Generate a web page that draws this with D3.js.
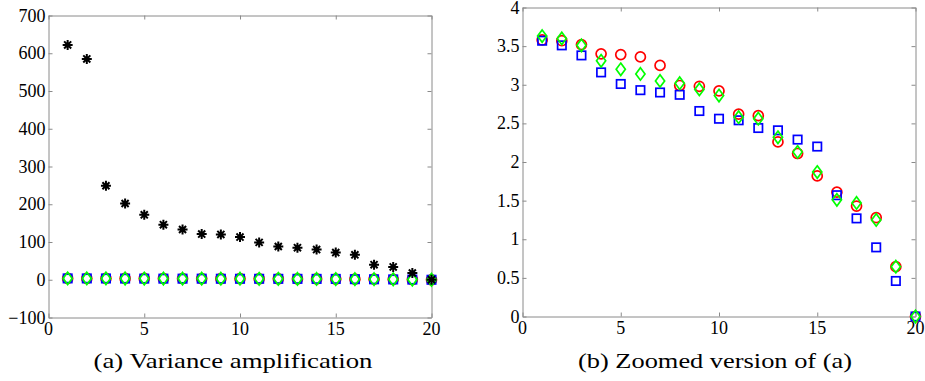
<!DOCTYPE html>
<html>
<head>
<meta charset="utf-8">
<script src="https://cdn.jsdelivr.net/npm/d3@7"></script>
</head>
<body style="margin:0">
<svg id="chart" width="925" height="381" style="font-family: 'Liberation Serif', serif"></svg>
<script>
// Index of each realisation (x positions)
const indices = [1, 2, 3, 4, 5, 6, 7, 8, 9, 10, 11, 12, 13, 14, 15, 16, 17, 18, 19, 20];

// Variance amplification of the baseline estimator (black stars)
const baseline = [622, 585, 249, 202, 172, 146, 133, 121, 120, 113, 99, 88, 85, 80, 72, 66, 40, 34, 18, 0];

// Variance amplification of the three improved estimators
const circleSeries = [3.58, 3.57, 3.52, 3.40, 3.39, 3.36, 3.25, 2.99, 2.98, 2.92, 2.62, 2.60, 2.26, 2.11, 1.82, 1.61, 1.43, 1.28, 0.645, 0];
const squareSeries = [3.57, 3.51, 3.38, 3.16, 3.01, 2.93, 2.90, 2.87, 2.66, 2.56, 2.54, 2.44, 2.41, 2.29, 2.20, 1.57, 1.27, 0.895, 0.46, 0];
const diamondSeries = [3.63, 3.60, 3.51, 3.31, 3.20, 3.14, 3.05, 3.02, 2.94, 2.86, 2.58, 2.56, 2.32, 2.13, 1.87, 1.51, 1.47, 1.25, 0.645, 0];

// Axis ticks
const xTicks = [0, 5, 10, 15, 20];
const yTicksA = [-100, 0, 100, 200, 300, 400, 500, 600, 700];
const yTicksB = [0, 0.5, 1, 1.5, 2, 2.5, 3, 3.5, 4];

// Captions
const captionA = "(a) Variance amplification";
const captionB = "(b) Zoomed version of (a)";

const svg = d3.select("#chart");
const axisColor = "#8a8a8a";

function drawPanel(cfg) {
  const x = d3.scaleLinear().domain([0, 20]).range([cfg.left, cfg.right]);
  const y = d3.scaleLinear().domain(cfg.yDomain).range([cfg.bottom, cfg.top]);
  const g = svg.append("g");

  const fmt = d3.format("~g");
  const frame = g.append("g");
  const labels = g.append("g");

  // inward ticks on all four sides, grey box
  const styleAxis = sel => {
    sel.selectAll("path.domain").attr("stroke", axisColor).attr("stroke-width", 1);
    sel.selectAll(".tick line").attr("stroke", axisColor);
    sel.selectAll(".tick text").remove();
  };
  frame.append("g").attr("transform", `translate(0,${cfg.bottom})`)
    .call(d3.axisBottom(x).tickValues(xTicks).tickSizeInner(-4).tickSizeOuter(0)).call(styleAxis);
  frame.append("g").attr("transform", `translate(0,${cfg.top})`)
    .call(d3.axisTop(x).tickValues(xTicks).tickSizeInner(-4).tickSizeOuter(0)).call(styleAxis);
  frame.append("g").attr("transform", `translate(${cfg.left},0)`)
    .call(d3.axisLeft(y).tickValues(cfg.yTicks).tickSizeInner(-4).tickSizeOuter(0)).call(styleAxis);
  frame.append("g").attr("transform", `translate(${cfg.right},0)`)
    .call(d3.axisRight(y).tickValues(cfg.yTicks).tickSizeInner(-4).tickSizeOuter(0)).call(styleAxis);

  // tick labels as plain text elements
  labels.selectAll("text.xl").data(xTicks).join("text")
    .attr("class", "xl")
    .attr("x", d => x(d)).attr("y", cfg.bottom + 17)
    .attr("text-anchor", "middle")
    .attr("font-family", "Liberation Serif").attr("font-size", 18).attr("fill", "#000")
    .text(d => fmt(d));
  labels.selectAll("text.yl").data(cfg.yTicks).join("text")
    .attr("class", "yl")
    .attr("x", cfg.left - 3).attr("y", d => y(d) + 6)
    .attr("text-anchor", "end")
    .attr("font-family", "Liberation Serif").attr("font-size", 18).attr("fill", "#000")
    .text(d => fmt(d));

  const marks = g.append("g");

  // red circles
  marks.append("g").selectAll("circle").data(indices).join("circle")
    .attr("cx", (d) => x(d)).attr("cy", (d, i) => y(circleSeries[i]))
    .attr("r", 5).attr("fill", "none").attr("stroke", "#ff0000").attr("stroke-width", 1.7);

  // blue squares
  marks.append("g").selectAll("rect").data(indices).join("rect")
    .attr("x", (d) => x(d) - 4.2).attr("y", (d, i) => y(squareSeries[i]) - 4.2)
    .attr("width", 8.4).attr("height", 8.4)
    .attr("fill", "none").attr("stroke", "#0000ff").attr("stroke-width", 1.7);

  // green diamonds
  marks.append("g").selectAll("path").data(indices).join("path")
    .attr("d", (d, i) => {
      const cx = x(d), cy = y(diamondSeries[i]);
      return `M${cx},${cy - 6.2}L${cx + 4.6},${cy}L${cx},${cy + 6.2}L${cx - 4.6},${cy}Z`;
    })
    .attr("fill", "none").attr("stroke", "#00ff00").attr("stroke-width", 1.7);

  // black asterisks
  if (cfg.showBaseline) {
    const r = 5;
    const d45 = r * Math.SQRT1_2;
    marks.append("g").selectAll("path").data(indices).join("path")
      .attr("d", (d, i) => {
        const cx = x(d), cy = y(baseline[i]);
        return `M${cx - r},${cy}L${cx + r},${cy}M${cx},${cy - r}L${cx},${cy + r}` +
               `M${cx - d45},${cy - d45}L${cx + d45},${cy + d45}M${cx - d45},${cy + d45}L${cx + d45},${cy - d45}`;
      })
      .attr("fill", "none").attr("stroke", "#000").attr("stroke-width", 2);
  }

  svg.append("text")
    .attr("x", cfg.captionX).attr("y", 368)
    .attr("text-anchor", "middle")
    .attr("font-family", "Liberation Serif").attr("font-size", 22).attr("fill", "#000")
    .attr("textLength", cfg.captionWidth).attr("lengthAdjust", "spacingAndGlyphs")
    .text(cfg.caption);
}

drawPanel({
  left: 48.5, right: 431.5, top: 15.5, bottom: 317.5,
  yDomain: [-100, 700], yTicks: yTicksA, showBaseline: true,
  caption: captionA, captionX: 233, captionWidth: 279
});

drawPanel({
  left: 522.5, right: 915.5, top: 7.5, bottom: 316.5,
  yDomain: [0, 4], yTicks: yTicksB, showBaseline: false,
  caption: captionB, captionX: 715, captionWidth: 274
});
</script>
</body>
</html>
